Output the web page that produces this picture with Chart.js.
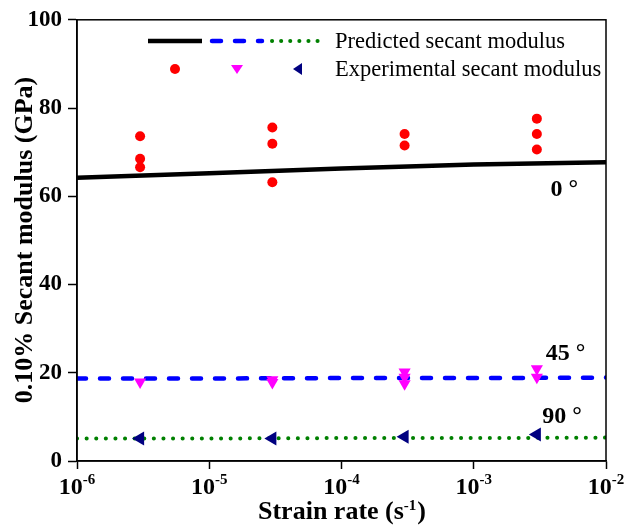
<!DOCTYPE html>
<html>
<head>
<meta charset="utf-8">
<script src="https://cdn.jsdelivr.net/npm/chart.js@4.4.1/dist/chart.umd.min.js"></script>
<style>
  html, body { margin: 0; padding: 0; background: #fff; }
  #wrap { width: 625px; height: 527px; }
</style>
</head>
<body>
<div id="wrap"><canvas id="secant"></canvas></div>
<script>
// strain rates where tests were run (s^-1)
var strainRates = [3e-6, 3e-5, 3e-4, 3e-3];
// experimental secant modulus (GPa), several specimens per rate
var exp0 = [[73.6, 68.5, 66.6], [75.6, 71.9, 63.2], [74.1, 71.5], [77.6, 74.1, 70.6]];
var exp45 = [[17.9], [18.4, 17.8], [20.2, 19.0, 17.5], [20.9, 19.0]];
var exp90 = [[5.1], [5.1], [5.5], [6.0]];
// predicted curves, read at each decade
var predRates = [1e-6, 1e-5, 1e-4, 1e-3, 1e-2];
var pred0 = [64.2, 65.2, 66.3, 67.2, 67.7];
var pred45 = [18.7, 18.7, 18.8, 18.8, 18.9];
var pred90 = [5.1, 5.1, 5.2, 5.2, 5.3];
var xTickExps = [-6, -5, -4, -3, -2];
var yTicks = [0, 20, 40, 60, 80, 100];
// angle labels next to the curves (baseline position in data units)
var angleLabels = ['0 \u00b0', '45 \u00b0', '90 \u00b0'];
var angleLabelPos = [[3.8e-3, 60.0], [3.5e-3, 22.8], [3.3e-3, 8.6]];

function pts(xs, ys) {
  return xs.map(function (x, i) { return { x: x, y: ys[i] }; });
}
function groupPts(groups) {
  var out = [];
  groups.forEach(function (g, i) {
    g.forEach(function (v) { out.push({ x: strainRates[i], y: v }); });
  });
  return out;
}

var serif = '"Liberation Serif", "Times New Roman", serif';

var decor = {
  id: 'decor',
  afterDraw: function (chart) {
    var ctx = chart.ctx, a = chart.chartArea;
    var x = chart.scales.x, y = chart.scales.y;
    ctx.save();
    // frame
    ctx.strokeStyle = '#000';
    ctx.lineWidth = 1.5;
    ctx.strokeRect(a.left, a.top, a.right - a.left, a.bottom - a.top);

    // x tick labels 10^n
    ctx.fillStyle = '#000';
    ctx.textBaseline = 'alphabetic';
    ctx.textAlign = 'left';
    xTickExps.forEach(function (e) {
      var px = x.getPixelForValue(Math.pow(10, e));
      ctx.font = 'bold 24px ' + serif;
      var wb = ctx.measureText('10').width;
      ctx.font = 'bold 15px ' + serif;
      var sup = '-' + Math.abs(e);
      var ws = ctx.measureText(sup).width;
      var start = px - (wb + ws) / 2;
      ctx.font = 'bold 24px ' + serif;
      ctx.fillText('10', start, 494);
      ctx.font = 'bold 15px ' + serif;
      ctx.fillText(sup, start + wb, 484);
    });

    // x title
    ctx.font = 'bold 26px ' + serif;
    var t1 = 'Strain rate (s';
    var w1 = ctx.measureText(t1).width;
    ctx.font = 'bold 15px ' + serif;
    var w2 = ctx.measureText('-1').width;
    ctx.font = 'bold 26px ' + serif;
    var w3 = ctx.measureText(')').width;
    var cx = (a.left + a.right) / 2;
    var sx = cx - (w1 + w2 + w3) / 2;
    ctx.fillText(t1, sx, 519);
    ctx.font = 'bold 15px ' + serif;
    ctx.fillText('-1', sx + w1, 510);
    ctx.font = 'bold 26px ' + serif;
    ctx.fillText(')', sx + w1 + w2 + 1, 519);

    // y title
    ctx.save();
    ctx.translate(32, 240);
    ctx.rotate(-Math.PI / 2);
    ctx.font = 'bold 26px ' + serif;
    ctx.textAlign = 'center';
    ctx.textBaseline = 'alphabetic';
    ctx.fillText('0.10% Secant modulus (GPa)', 0, 0);
    ctx.restore();

    // angle labels
    ctx.font = 'bold 24px ' + serif;
    ctx.textAlign = 'left';
    ctx.textBaseline = 'alphabetic';
    angleLabels.forEach(function (s, i) {
      var p = angleLabelPos[i];
      ctx.fillText(s, x.getPixelForValue(p[0]), y.getPixelForValue(p[1]));
    });

    // legend
    ctx.lineCap = 'butt';
    ctx.strokeStyle = '#000';
    ctx.lineWidth = 4.5;
    ctx.setLineDash([]);
    ctx.beginPath(); ctx.moveTo(148, 41); ctx.lineTo(202, 41); ctx.stroke();
    ctx.strokeStyle = '#0000ff';
    ctx.lineCap = 'round';
    ctx.setLineDash([9, 14]);
    ctx.beginPath(); ctx.moveTo(212, 41); ctx.lineTo(262, 41); ctx.stroke();
    ctx.strokeStyle = '#008000';
    ctx.lineWidth = 4;
    ctx.setLineDash([0.1, 9]);
    ctx.beginPath(); ctx.moveTo(272, 41); ctx.lineTo(324, 41); ctx.stroke();
    ctx.setLineDash([]);

    ctx.fillStyle = '#ff0000';
    ctx.beginPath(); ctx.arc(175, 69, 5, 0, Math.PI * 2); ctx.fill();
    ctx.fillStyle = '#ff00ff';
    ctx.beginPath(); ctx.moveTo(231, 65); ctx.lineTo(243, 65); ctx.lineTo(237, 74); ctx.closePath(); ctx.fill();
    ctx.fillStyle = '#000080';
    ctx.beginPath(); ctx.moveTo(293, 69); ctx.lineTo(302, 63); ctx.lineTo(302, 75); ctx.closePath(); ctx.fill();

    ctx.fillStyle = '#000';
    ctx.font = '22.5px ' + serif;
    ctx.textBaseline = 'middle';
    ctx.fillText('Predicted secant modulus', 335, 42);
    ctx.fillText('Experimental secant modulus', 335, 70);
    ctx.restore();
  }
};

var chart = new Chart(document.getElementById('secant'), {
  type: 'scatter',
  data: {
    datasets: [
      { label: '0 exp', data: groupPts(exp0), backgroundColor: '#ff0000', borderWidth: 0,
        pointStyle: 'circle', pointRadius: 5, order: 1 },
      { label: '45 exp', data: groupPts(exp45), backgroundColor: '#ff00ff', borderWidth: 0,
        pointStyle: 'triangle', rotation: 180, pointRadius: 7, order: 1 },
      { label: '90 exp', data: groupPts(exp90), backgroundColor: '#000080', borderWidth: 0,
        pointStyle: 'triangle', rotation: 270, pointRadius: 8, order: 1 },
      { label: '0 pred', data: pts(predRates, pred0), showLine: true, borderColor: '#000',
        borderWidth: 4.5, pointRadius: 0, order: 2 },
      { label: '45 pred', data: pts(predRates, pred45), showLine: true, borderColor: '#0000ff',
        borderWidth: 4.5, borderDash: [9, 14], borderCapStyle: 'round', pointRadius: 0, order: 2 },
      { label: '90 pred', data: pts(predRates, pred90), showLine: true, borderColor: '#008000',
        borderWidth: 4, borderDash: [0.1, 9.5], borderCapStyle: 'round', pointRadius: 0, order: 2 }
    ]
  },
  options: {
    responsive: true,
    maintainAspectRatio: false,
    animation: false,
    layout: { padding: { top: 18, right: 19, left: 0, bottom: 0 } },
    plugins: { legend: { display: false }, tooltip: { enabled: false } },
    scales: {
      x: {
        type: 'logarithmic',
        min: 1e-6, max: 1e-2,
        afterBuildTicks: function (s) {
          s.ticks = xTickExps.map(function (e) { return { value: Math.pow(10, e) }; });
        },
        afterFit: function (s) { s.height = 66; },
        ticks: { display: false },
        grid: { drawOnChartArea: false, color: '#000', tickLength: 8, tickWidth: 1.5 },
        border: { display: true, color: '#000', width: 1.5 }
      },
      y: {
        min: 0, max: 100,
        afterBuildTicks: function (s) {
          s.ticks = yTicks.map(function (v) { return { value: v }; });
        },
        afterFit: function (s) { s.width = 77; },
        ticks: { color: '#000', padding: 6, font: { family: serif, size: 23, weight: 'bold' } },
        grid: { drawOnChartArea: false, color: '#000', tickLength: 9, tickWidth: 1.5 },
        border: { display: true, color: '#000', width: 1.5 }
      }
    }
  },
  plugins: [decor]
});
</script>
</body>
</html>
